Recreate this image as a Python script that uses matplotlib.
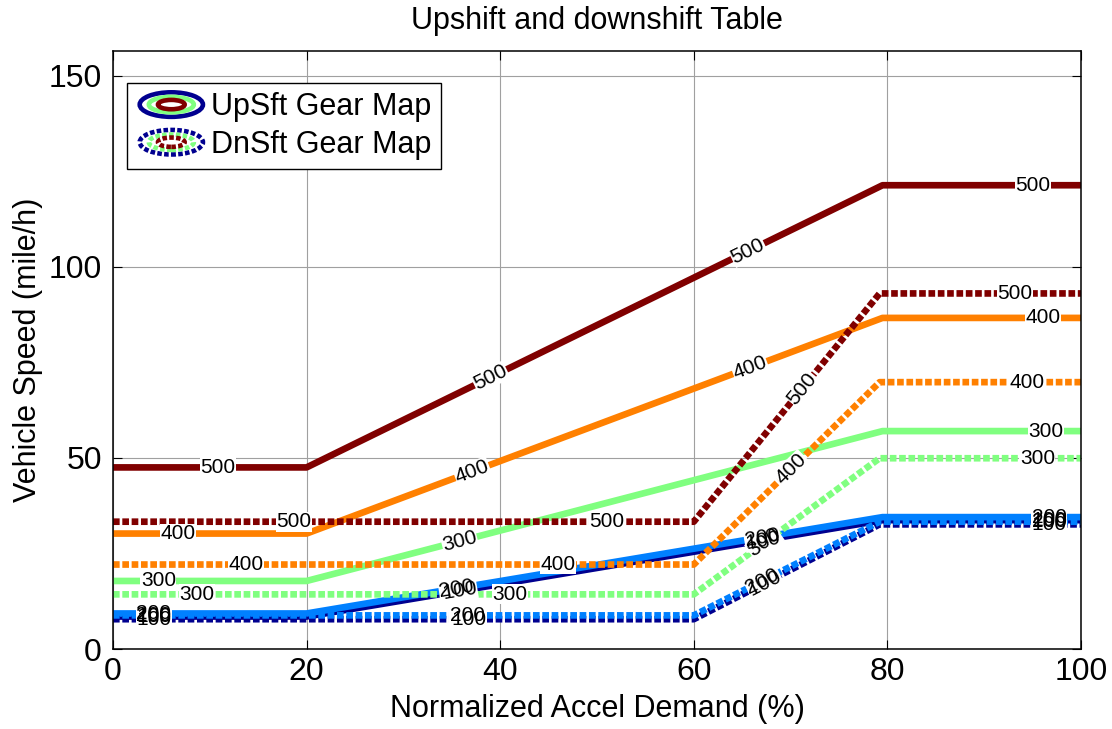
import numpy as np
import matplotlib
matplotlib.use("Agg")
import matplotlib.pyplot as plt
from matplotlib.lines import Line2D
from matplotlib.patches import Ellipse
from matplotlib.legend_handler import HandlerBase

plt.rcParams["font.family"] = ["Liberation Sans", "DejaVu Sans"]

# ----------------------------
# Shift-map data
# ----------------------------
levels = [100, 200, 300, 400, 500]
level_colors = ["#00008F", "#0080FF", "#80FF80", "#FF8000", "#800000"]

# upshift curves: vehicle speed (mile/h) vs accel demand (%)
up_x = [0, 20, 79.5, 100]
up_100 = [8.5, 8.5, 33.7, 33.7]
up_200 = [9.3, 9.3, 34.5, 34.5]
up_300 = [17.8, 17.8, 57.0, 57.0]
up_400 = [30.2, 30.2, 86.6, 86.6]
up_500 = [47.5, 47.5, 121.3, 121.3]

# downshift curves
dn_x = [0, 60, 79.2, 100]
dn_100 = [7.8, 7.8, 32.6, 32.6]
dn_200 = [8.8, 8.8, 33.3, 33.3]
dn_300 = [14.3, 14.3, 49.9, 49.9]
dn_400 = [22.1, 22.1, 69.8, 69.8]
dn_500 = [33.3, 33.3, 93.0, 93.0]

up_curves = [up_100, up_200, up_300, up_400, up_500]
dn_curves = [dn_100, dn_200, dn_300, dn_400, dn_500]

# where the inline level labels sit along each curve (accel demand %)
up_label_x = [
    [4.2, 35.8, 67.1, 96.7],
    [4.2, 35.5, 67.1, 96.7],
    [4.7, 35.8, 96.4],
    [6.7, 37.1, 65.8, 96.1],
    [10.8, 39.0, 65.6, 95.0],
]
dn_label_x = [
    [4.2, 36.8, 67.3, 96.7],
    [4.2, 36.6, 67.1, 96.7],
    [8.7, 41.0, 67.3, 95.5],
    [13.7, 46.0, 70.1, 94.4],
    [18.7, 51.0, 71.2, 93.2],
]

LW = 4.8
DOTTED = (0, (1.0, 0.4))


class RingHandler(HandlerBase):
    """Legend key drawn as three nested contour rings."""

    def __init__(self, dotted):
        super().__init__()
        self.dotted = dotted

    def create_artists(self, legend, orig_handle, xdescent, ydescent,
                       width, height, fontsize, trans):
        cx = width / 2 - xdescent
        cy = height / 2 - ydescent
        ls = (0, (1.0, 0.5)) if self.dotted else "-"
        rings = []
        for fw, fh, c in [(0.90, 1.05, level_colors[0]),
                          (0.64, 0.66, level_colors[2]),
                          (0.38, 0.40, level_colors[4])]:
            e = Ellipse((cx, cy), width * fw, height * fh, fill=False,
                        edgecolor=c, linewidth=3.3, linestyle=ls,
                        transform=trans)
            rings.append(e)
        return rings


def put_label(ax, xs, ys, xa, text):
    ya = np.interp(xa, xs, ys)
    dy = np.interp(xa + 0.3, xs, ys) - np.interp(xa - 0.3, xs, ys)
    ang = np.degrees(np.arctan2(dy, 0.6))
    rot = ax.transData.transform_angles(np.array([ang]),
                                        np.array([[xa, ya]]))[0]
    # white backing breaks the line under the label
    ax.text(xa, ya, text, fontsize=15, rotation=rot,
            rotation_mode="anchor", ha="center", va="center",
            color=(0, 0, 0, 0), zorder=3,
            bbox=dict(boxstyle="square,pad=0.02", fc="white", ec="none"))
    ax.text(xa, ya, text, fontsize=15, rotation=rot,
            rotation_mode="anchor", ha="center", va="center",
            color="black", zorder=4)


fig = plt.figure(figsize=(11.12, 7.29), dpi=100)
ax = fig.add_axes([0.1016, 0.1097, 0.8705, 0.8203])

ax.set_xlim(0, 100)
ax.set_ylim(0, 156.4)
ax.set_xticks([0, 20, 40, 60, 80, 100])
ax.set_yticks([0, 50, 100, 150])

for ys, c in zip(up_curves, level_colors):
    ax.plot(up_x, ys, color=c, linewidth=LW, solid_capstyle="butt",
            zorder=2)
for ys, c in zip(dn_curves, level_colors):
    ax.plot(dn_x, ys, color=c, linewidth=LW, linestyle=DOTTED,
            dash_capstyle="butt", zorder=2.5)

for lev, ys, xl in zip(levels, up_curves, up_label_x):
    for xa in xl:
        put_label(ax, up_x, ys, xa, str(lev))
for lev, ys, xl in zip(levels, dn_curves, dn_label_x):
    for xa in xl:
        put_label(ax, dn_x, ys, xa, str(lev))

ax.grid(True, color="#a0a0a0", linewidth=0.8, linestyle="-")
ax.set_axisbelow(True)
ax.tick_params(direction="in", length=6.5, width=0.8, top=True, right=True,
               labelsize=23)
ax.tick_params(axis="x", pad=6)
ax.tick_params(axis="y", pad=8)
for sp in ax.spines.values():
    sp.set_linewidth(1.1)

ax.set_xlabel("Normalized Accel Demand (%)", fontsize=22, labelpad=5)
ax.set_ylabel("Vehicle Speed (mile/h)", fontsize=22, labelpad=4)
ax.set_title("Upshift and downshift Table", fontsize=22, pad=16)

up_key = Line2D([], [], color=level_colors[0])
dn_key = Line2D([], [], color=level_colors[0], linestyle=":")
leg = ax.legend([up_key, dn_key], ["UpSft Gear Map", "DnSft Gear Map"],
                handler_map={up_key: RingHandler(False),
                             dn_key: RingHandler(True)},
                loc="upper left", bbox_to_anchor=(0.0145, 0.9465),
                borderaxespad=0, fontsize=22, handlelength=2.3,
                handleheight=0.8, handletextpad=0.15, labelspacing=0.25,
                borderpad=0.3, fancybox=False, framealpha=1,
                edgecolor="black")
leg.get_frame().set_linewidth(1.0)
leg.set_zorder(5)

fig.savefig("out.png", dpi=100)
